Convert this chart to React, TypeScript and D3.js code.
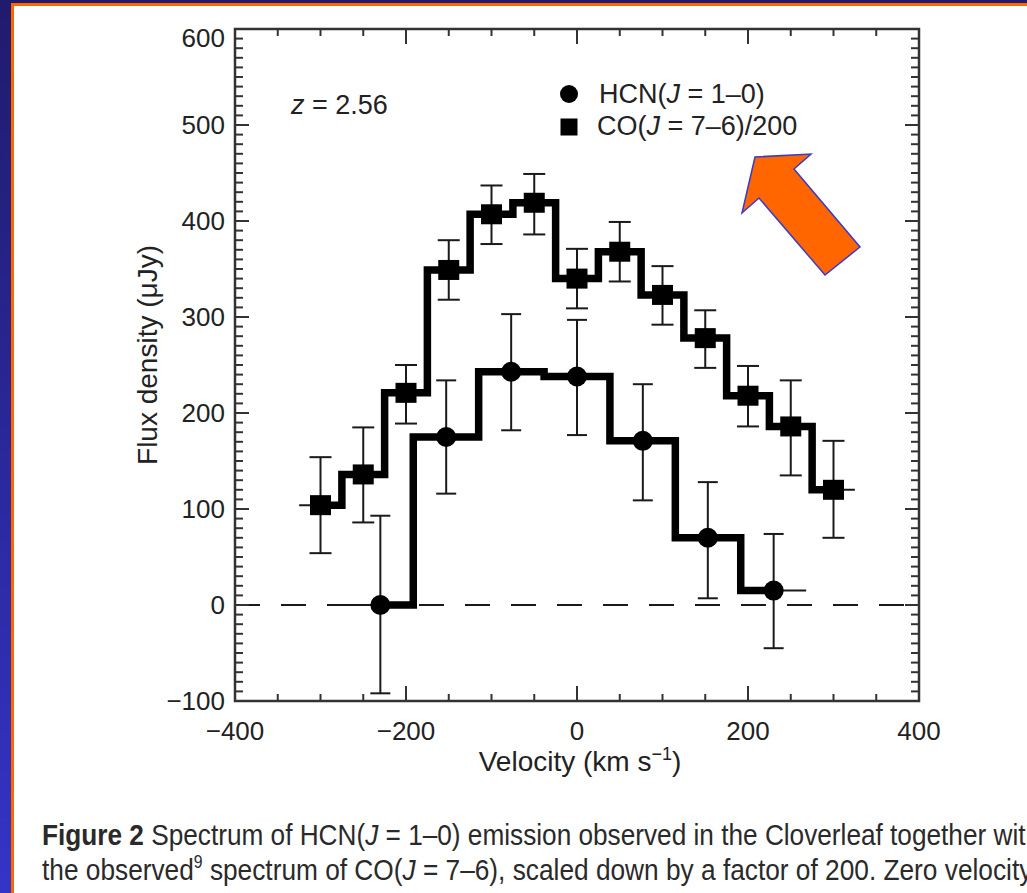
import React, { useLayoutEffect, useRef, useState } from 'react';
import * as d3 from 'd3';

// ---- Data ----
const xMajorTicks = [-400, -200, 0, 200, 400];
const xTickLabels = ['\u2212400', '\u2212200', '0', '200', '400'];
const yMajorTicks = [-100, 0, 100, 200, 300, 400, 500, 600];
const yTickLabels = ['\u2212100', '0', '100', '200', '300', '400', '500', '600'];

const coVelocity = [-300, -250, -200, -150, -100, -50, 0, 50, 100, 150, 200, 250, 300];
const coFlux = [104, 136, 221, 349, 407, 419, 340, 368, 323, 278, 218, 186, 120];
const coErrLow = [54, 86, 189, 318, 376, 386, 309, 337, 292, 247, 186, 135, 70];
const coErrHigh = [154, 185, 250, 380, 437, 449, 371, 399, 353, 307, 249, 234, 171];
const coHalfBin = 25;

const hcnVelocity = [-230, -153, -77, 0, 77, 153, 230];
const hcnFlux = [0, 175, 243, 238, 171, 70, 15];
const hcnErrLow = [-92, 116, 182, 177, 109, 7, -45];
const hcnErrHigh = [93, 234, 303, 297, 230, 128, 74];
const hcnHalfBin = 38;

const W = 1027;
const H = 893;
const FONT = '"Liberation Sans", Arial, Helvetica, sans-serif';
const INK = '#1a1a1a';

export default function App() {
  const x = d3.scaleLinear().domain([-400, 400]).range([235, 919]);
  const y = d3.scaleLinear().domain([-100, 600]).range([701, 29]);
  const [x0, x1] = x.range();
  const [y0, y1] = y.range();

  const xMinor = d3.range(-400, 401, 50).filter((v) => !xMajorTicks.includes(v));
  const yMinor = d3.range(-100, 601, 10).filter((v) => v % 100 !== 0);

  const step = d3
    .line<[number, number]>()
    .x((d) => x(d[0]))
    .y((d) => y(d[1]))
    .curve(d3.curveStep);

  const coPts = coVelocity.map((v, i) => [v, coFlux[i]] as [number, number]);
  const hcnPts = hcnVelocity.map((v, i) => [v, hcnFlux[i]] as [number, number]);

  const cap1 = useRef<SVGTextElement>(null);
  const cap2 = useRef<SVGTextElement>(null);
  const [scales, setScales] = useState<[number, number]>([0.78, 0.78]);
  useLayoutEffect(() => {
    const s: [number, number] = [0.78, 0.78];
    try {
      if (cap1.current) {
        const w = cap1.current.getComputedTextLength();
        if (w > 0) s[0] = 998 / w;
      }
      if (cap2.current) {
        const n = 'the observed9 spectrum of'.length;
        const w = cap2.current.getSubStringLength(0, n);
        if (w > 0) s[1] = 305 / w;
      }
    } catch (e) {}
    if (Math.abs(s[0] - scales[0]) > 0.001 || Math.abs(s[1] - scales[1]) > 0.001) setScales(s);
  }, []);

  const arrow = [
    [755, 157],
    [811, 154],
    [794, 169],
    [860, 247],
    [825, 275],
    [759, 198],
    [742, 213],
  ];

  return (
    <svg
      width={W}
      height={H}
      style={{ position: 'absolute', left: 0, top: 0, display: 'block' }}
      fontFamily={FONT}
    >
      <defs>
        <linearGradient id="bg" x1="0" y1="0" x2="0" y2="1">
          <stop offset="0" stopColor="#201b6c" />
          <stop offset="1" stopColor="#3434c8" />
        </linearGradient>
      </defs>
      <rect x={0} y={0} width={W} height={H} fill="url(#bg)" />
      <rect x={12.5} y={4.5} width={W + 20} height={H + 20} fill="#ffffff" stroke="#ff6600" strokeWidth={3} />

      {/* zero line */}
      <line
        x1={x0}
        x2={x1}
        y1={y(0)}
        y2={y(0)}
        stroke={INK}
        strokeWidth={2}
        strokeDasharray="25 21"
      />

      {/* axes frame */}
      <rect x={x0} y={y1} width={x1 - x0} height={y0 - y1} fill="none" stroke="#333" strokeWidth={2.5} />

      {/* ticks */}
      <g stroke="#333" strokeWidth={2}>
        {xMajorTicks.map((v) => (
          <g key={'xm' + v}>
            <line x1={x(v)} x2={x(v)} y1={y0} y2={y0 - 15} />
            <line x1={x(v)} x2={x(v)} y1={y1} y2={y1 + 15} />
          </g>
        ))}
        {xMinor.map((v) => (
          <g key={'xn' + v}>
            <line x1={x(v)} x2={x(v)} y1={y0} y2={y0 - 7} />
            <line x1={x(v)} x2={x(v)} y1={y1} y2={y1 + 7} />
          </g>
        ))}
        {yMajorTicks.map((v) => (
          <g key={'ym' + v}>
            <line x1={x0} x2={x0 + 14} y1={y(v)} y2={y(v)} />
            <line x1={x1} x2={x1 - 14} y1={y(v)} y2={y(v)} />
          </g>
        ))}
        {yMinor.map((v) => (
          <g key={'yn' + v}>
            <line x1={x0} x2={x0 + 8} y1={y(v)} y2={y(v)} />
            <line x1={x1} x2={x1 - 8} y1={y(v)} y2={y(v)} />
          </g>
        ))}
      </g>

      {/* tick labels */}
      <g fontSize={26} fill="#222">
        {xMajorTicks.map((v, i) => (
          <text key={'xl' + v} x={x(v)} y={740} textAnchor="middle">
            {xTickLabels[i]}
          </text>
        ))}
        {yMajorTicks.map((v, i) => (
          <text
            key={'yl' + v}
            x={225}
            y={y(v) + (v === 600 ? 9 : 0)}
            dy="0.36em"
            textAnchor="end"
          >
            {yTickLabels[i]}
          </text>
        ))}
      </g>

      {/* axis titles */}
      <text x={580} y={771} textAnchor="middle" fontSize={28} fill="#222">
        Velocity (km s
        <tspan fontSize={18} dy={-11}>
          {'\u22121'}
        </tspan>
        <tspan dy={11}>)</tspan>
      </text>
      <text
        transform="translate(157,355) rotate(-90)"
        textAnchor="middle"
        fontSize={28}
        fill="#222"
      >
        Flux density (μJy)
      </text>

      {/* redshift label */}
      <text x={291} y={114} fontSize={27} fill="#222">
        <tspan fontStyle="italic">z</tspan> = 2.56
      </text>

      {/* legend */}
      <circle cx={569} cy={94} r={9} fill="#000" />
      <text x={599} y={103} fontSize={27} fill="#222">
        HCN(<tspan fontStyle="italic">J</tspan> = 1–0)
      </text>
      <rect x={569 - 8.5} y={127 - 8.5} width={17} height={17} fill="#000" />
      <text x={597} y={135} fontSize={27} fill="#222">
        CO(<tspan fontStyle="italic">J</tspan> = 7–6)/200
      </text>

      {/* error bars */}
      <g stroke={INK} strokeWidth={2} fill="none">
        {coVelocity.map((v, i) => (
          <g key={'ce' + i}>
            <line x1={x(v)} x2={x(v)} y1={y(coErrLow[i])} y2={y(coErrHigh[i])} />
            <line x1={x(v) - 11} x2={x(v) + 11} y1={y(coErrLow[i])} y2={y(coErrLow[i])} />
            <line x1={x(v) - 11} x2={x(v) + 11} y1={y(coErrHigh[i])} y2={y(coErrHigh[i])} />
            <line x1={x(v - coHalfBin)} x2={x(v + coHalfBin)} y1={y(coFlux[i])} y2={y(coFlux[i])} />
          </g>
        ))}
        {hcnVelocity.map((v, i) => (
          <g key={'he' + i}>
            <line x1={x(v)} x2={x(v)} y1={y(hcnErrLow[i])} y2={y(hcnErrHigh[i])} />
            <line x1={x(v) - 10} x2={x(v) + 10} y1={y(hcnErrLow[i])} y2={y(hcnErrLow[i])} />
            <line x1={x(v) - 10} x2={x(v) + 10} y1={y(hcnErrHigh[i])} y2={y(hcnErrHigh[i])} />
            <line x1={x(v - hcnHalfBin)} x2={x(v + hcnHalfBin)} y1={y(hcnFlux[i])} y2={y(hcnFlux[i])} />
          </g>
        ))}
      </g>

      {/* step lines */}
      <path d={step(coPts) || ''} fill="none" stroke="#000" strokeWidth={7.5} strokeLinejoin="miter" />
      <path d={step(hcnPts) || ''} fill="none" stroke="#000" strokeWidth={7.5} strokeLinejoin="miter" />

      {/* markers */}
      {coVelocity.map((v, i) => (
        <rect key={'cm' + i} x={x(v) - 10.5} y={y(coFlux[i]) - 10} width={21} height={20} fill="#000" />
      ))}
      {hcnVelocity.map((v, i) => (
        <circle key={'hm' + i} cx={x(v)} cy={y(hcnFlux[i])} r={10} fill="#000" />
      ))}

      {/* arrow */}
      <polygon
        points={arrow.map((p) => p.join(',')).join(' ')}
        fill="#ff6600"
        stroke="#3a3acc"
        strokeWidth={1.5}
        strokeLinejoin="miter"
      />

      {/* caption */}
      <text ref={cap1} transform={`translate(42,845) scale(${scales[0]},1)`} fontSize={30} fill="#2a2a2a">
        <tspan fontWeight="bold">Figure 2</tspan> Spectrum of HCN(<tspan fontStyle="italic">J</tspan> = 1–0) emission observed in the Cloverleaf together with
      </text>
      <text ref={cap2} transform={`translate(42,880) scale(${scales[1]},1)`} fontSize={30} fill="#2a2a2a">
        the observed<tspan fontSize={18} dy={-12}>9</tspan>
        <tspan dy={12}> spectrum of CO(</tspan>
        <tspan fontStyle="italic">J</tspan> = 7–6), scaled down by a factor of 200. Zero velocity
      </text>
    </svg>
  );
}
